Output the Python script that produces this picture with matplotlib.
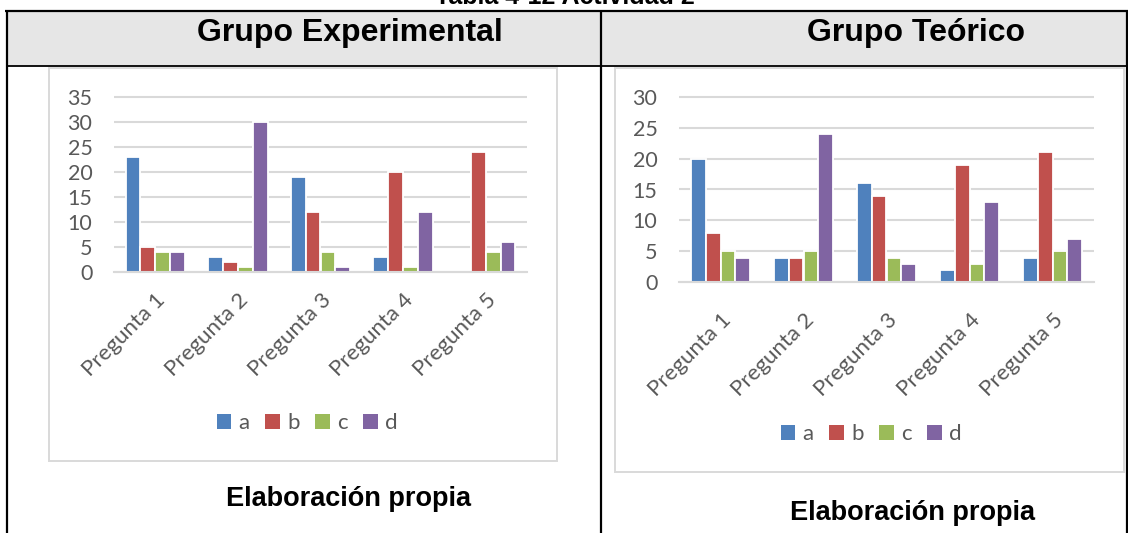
import matplotlib
matplotlib.use("Agg")
import matplotlib.pyplot as plt
from matplotlib.patches import Rectangle, Patch
import numpy as np

# ---- data -------------------------------------------------------------
categories = ["Pregunta 1", "Pregunta 2", "Pregunta 3", "Pregunta 4", "Pregunta 5"]
options = ["a", "b", "c", "d"]

exp_a = [23, 3, 19, 3, 0]
exp_b = [5, 2, 12, 20, 24]
exp_c = [4, 1, 4, 1, 4]
exp_d = [4, 30, 1, 12, 6]

teo_a = [20, 4, 16, 2, 4]
teo_b = [8, 4, 14, 19, 21]
teo_c = [5, 5, 4, 3, 5]
teo_d = [4, 24, 3, 13, 7]

exp_ticks = [0, 5, 10, 15, 20, 25, 30, 35]
teo_ticks = [0, 5, 10, 15, 20, 25, 30]

table_title = "Tabla 4-12 Actividad 2"
headers = ["Grupo Experimental", "Grupo Teórico"]
source_note = "Elaboración propia"

colors = ["#4F81BD", "#C0504D", "#9BBB59", "#8064A2"]
GRID = "#D9D9D9"
TEXT = "#595959"

# ---- figure -----------------------------------------------------------
W, H = 1128, 533
fig = plt.figure(figsize=(W / 100, H / 100), dpi=100)
fig.patch.set_facecolor("white")

# background layer in pixel coordinates for the table frame
bg = fig.add_axes([0, 0, 1, 1])
bg.set_xlim(0, W)
bg.set_ylim(H, 0)
bg.axis("off")
bg.set_zorder(0)

# header band
bg.add_patch(Rectangle((6, 11), 1121, 55, facecolor="#E6E6E6", edgecolor="none"))
# table lines
lw_tab = 1.6
bg.plot([5, 1128], [11, 11], color="black", lw=lw_tab, solid_capstyle="butt")
bg.plot([6, 1127], [66, 66], color="black", lw=1.3, solid_capstyle="butt")
for x in (6.5, 601, 1126.5):
    bg.plot([x, x], [11, H + 2], color="black", lw=lw_tab, solid_capstyle="butt")

# chart frames
bg.add_patch(Rectangle((49, 67.5), 508, 393.5, facecolor="white",
                       edgecolor=GRID, lw=1.4))
bg.add_patch(Rectangle((615, 67.5), 509, 404.5, facecolor="white",
                       edgecolor=GRID, lw=1.4))

# title (sits partly above the page edge)
bg.text(565, 4, table_title, ha="center", va="baseline", fontsize=18,
        fontweight="bold", family="Liberation Sans", color="black")
bg.text(350, 41, headers[0], ha="center", va="baseline", fontsize=23,
        fontweight="bold", family="Liberation Sans", color="black")
bg.text(916, 41, headers[1], ha="center", va="baseline", fontsize=23,
        fontweight="bold", family="Liberation Sans", color="black")
bg.text(349, 506.5, source_note, ha="center", va="baseline", fontsize=19.5,
        fontweight="bold", family="Liberation Sans", color="black")
bg.text(913, 519.5, source_note, ha="center", va="baseline", fontsize=19.5,
        fontweight="bold", family="Liberation Sans", color="black")


def draw_chart(rect_px, series, ticks, xpad, legend_xy):
    x0, x1, ytop, ybot = rect_px
    ax = fig.add_axes([x0 / W, 1 - ybot / H, (x1 - x0) / W, (ybot - ytop) / H])
    ax.set_zorder(2)
    ax.patch.set_alpha(0)
    x = np.arange(len(categories))
    width = 0.18
    offsets = (np.arange(len(series)) - (len(series) - 1) / 2) * width
    for vals, off, col in zip(series, offsets, colors):
        ax.bar(x + off, vals, width=width, color=col, edgecolor="white",
               linewidth=1.3, zorder=2)
    ax.set_xlim(-0.5, len(categories) - 0.5)
    ax.set_ylim(ticks[0], ticks[-1])
    ax.hlines(ticks, -0.5, len(categories) - 0.5, colors=GRID, lw=1.5,
              zorder=1, clip_on=False)
    ax.axhline(0, color=GRID, lw=1.5, zorder=3, clip_on=False)
    for s in ax.spines.values():
        s.set_visible(False)
    ax.set_yticks(ticks)
    ax.set_yticklabels([str(t) for t in ticks], family="Lato", fontsize=15.5,
                       color=TEXT)
    ax.tick_params(axis="y", length=0, pad=15.5)
    ax.set_xticks(x)
    ax.set_xticklabels(categories, rotation=45, ha="right", va="top",
                       rotation_mode="anchor", family="Lato", fontsize=16,
                       color=TEXT)
    ax.tick_params(axis="x", length=0, pad=xpad)
    handles = [Patch(facecolor=c, edgecolor="none") for c in colors]
    lx, ly = legend_xy
    leg = ax.legend(handles, options, loc="center", ncol=4, frameon=False,
                    bbox_to_anchor=(lx, ly), bbox_transform=bg.transData,
                    prop={"family": "Lato", "size": 16},
                    handlelength=0.66, handleheight=0.66,
                    handletextpad=0.32, columnspacing=0.7, borderpad=0)
    for t in leg.get_texts():
        t.set_color(TEXT)
    return ax


draw_chart((114, 527, 96.7, 271.7), [exp_a, exp_b, exp_c, exp_d],
           exp_ticks, 13, (307, 423))
draw_chart((679, 1094, 96.7, 282.3), [teo_a, teo_b, teo_c, teo_d],
           teo_ticks, 20, (871, 434))

fig.savefig("out.png", dpi=100, facecolor="white")
